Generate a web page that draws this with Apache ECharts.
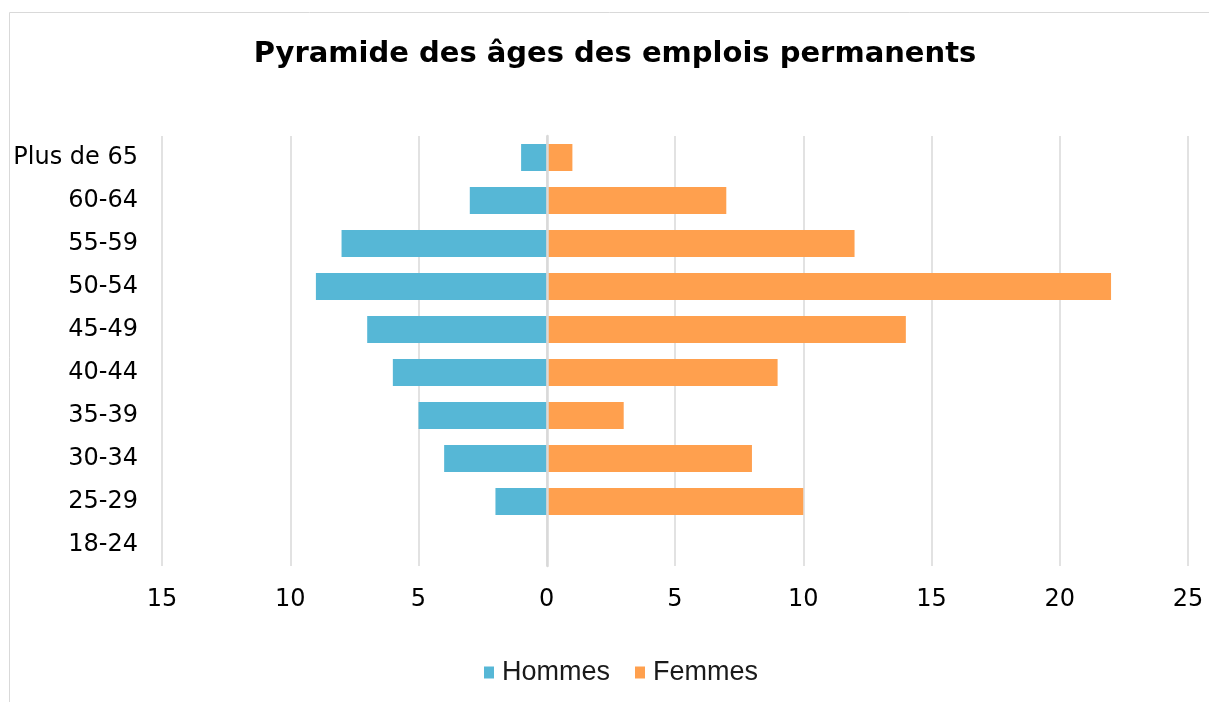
<!DOCTYPE html>
<style>
body {margin: 0; background: #fff;}
#div_echart {height: 702px; width: 1209px;}
</style>
<script src='https://cdn.jsdelivr.net/npm/echarts@6/dist/echarts.min.js'></script>
<div id='div_echart'></div>
<script>
// bottom to top, as the category axis draws them
let ages = ['18-24', '25-29', '30-34', '35-39', '40-44', '45-49', '50-54', '55-59', '60-64', 'Plus de 65']
let hommes = [0, 2, 4, 5, 6, 7, 9, 8, 3, 1]
let femmes = [0, 10, 8, 3, 9, 14, 22, 12, 7, 1]
let ticks = [-15, -10, -5, 0, 5, 10, 15, 20, 25]

let font = 'DejaVu Sans'
let echart = echarts.init(document.getElementById('div_echart'))
echart.setOption({
	animation: false,
	title: {
		text: 'Pyramide des âges des emplois permanents',
		left: 610, top: 35, textAlign: 'center',
		textStyle: {fontFamily: font, fontWeight: 'bold', fontSize: 29, color: '#000'}
	},
	graphic: [{
		type: 'rect', shape: {x: 9.5, y: 12.5, width: 1400, height: 900},
		style: {fill: 'none', stroke: '#d9d9d9', lineWidth: 1}, silent: true
	}],
	legend: {
		left: 479, top: 654, itemWidth: 10, itemHeight: 12, itemGap: 25,
		icon: 'rect',
		textStyle: {fontFamily: 'Liberation Sans', fontSize: 27, color: '#1a1a1a', padding: [0, 0, 0, 3]},
		data: ['Hommes', 'Femmes']
	},
	grid: {left: 162, right: 21, top: 136, bottom: 136},
	xAxis: {
		type: 'value', min: ticks[0], max: ticks[ticks.length - 1], interval: 5,
		axisLine: {show: false}, axisTick: {show: false},
		axisLabel: {fontFamily: font, fontSize: 24, color: '#000', margin: 22, formatter: v => Math.abs(v)},
		splitLine: {lineStyle: {color: '#d9d9d9', width: 1.5}}
	},
	yAxis: {
		type: 'category', data: ages, z: 3,
		axisLine: {lineStyle: {color: '#d9d9d9', width: 2.5}},
		axisTick: {show: false},
		axisLabel: {fontFamily: font, fontSize: 24, color: '#000', margin: 24, padding: [6, 0, 0, 0]}
	},
	series: [
		{name: 'Hommes', type: 'bar', stack: 'p', barWidth: 27, itemStyle: {color: '#56b7d6'},
			data: hommes.map(v => -v)},
		{name: 'Femmes', type: 'bar', stack: 'p', barWidth: 27, itemStyle: {color: '#ffa04e'},
			data: femmes}
	]
})
</script>
